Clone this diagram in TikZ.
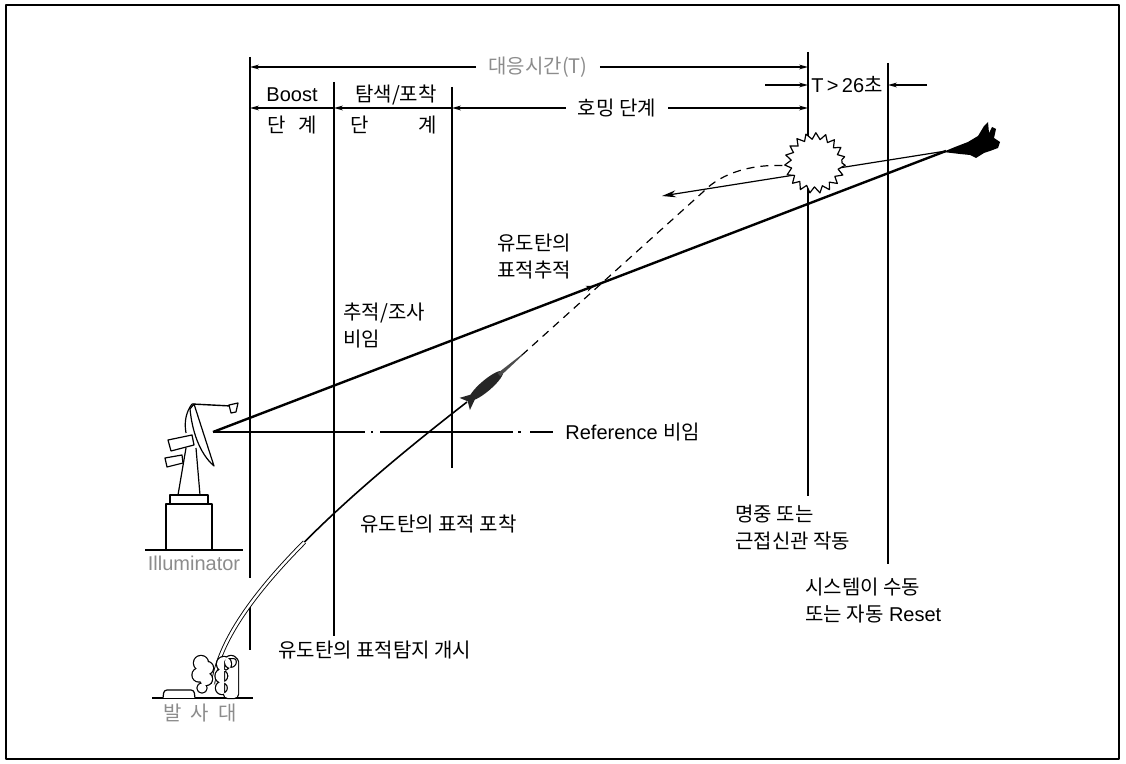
\documentclass[tikz,border=0pt]{standalone}
\usepackage{fontspec}
\setmainfont{Liberation Sans}
\newfontfamily\krfont{Noto Sans CJK KR}
\usetikzlibrary{arrows.meta,decorations.pathmorphing,decorations.markings}
\newcommand{\hg}[1]{{\krfont #1}}
\definecolor{labelgray}{gray}{0.55}

\tikzset{
  txt/.style={font=\fontsize{10}{13.5}\selectfont, inner sep=0pt, align=left},
  dimlbl/.style={txt, inner xsep=6pt},
  dimarrow/.style={line width=0.6pt, -{Stealth[length=4.5pt,width=2.4pt]}},
  phase/.style={line width=0.6pt},
  beam/.style={line width=1.2pt},
  part/.style={line width=0.6pt, fill=white},
}
% puffs of smoke: a thick outline first, then white fill on top
\newcommand{\puffs}[1]{%
  \draw[line width=1.2pt] #1;
  \fill[white] #1;}

\begin{document}
\begin{tikzpicture}[x=0.5pt,y=-0.5pt,line join=round]
\useasboundingbox (0,0) rectangle (1126,764);
\draw[line width=0.8pt] (6,5) rectangle (1119,759);

% phase boundaries
\coordinate (v1) at (250,57);
\coordinate (v2) at (334,82);
\coordinate (v3) at (452,87);
\coordinate (v4) at (808,52);
\coordinate (v5) at (888,63);
\draw[phase] (v1) -- (250,578);
\draw[phase] (250,606) -- (250,650);
\draw[phase] (v2) -- (334,636);
\draw[phase] (v3) -- (452,468);
\draw[phase] (v4) -- (808,496);
\draw[phase] (v5) -- (888,564);

% time scale on top
\node[dimlbl, text=labelgray] (resp) at (538,67) {\hg{대응시간(T)}};
\draw[dimarrow] (resp.west) -- (resp.west -| v1);
\draw[dimarrow] (resp.east) -- (resp.east -| v4);

\node[dimlbl] (homing) at (617,108) {\hg{호밍 단계}};
\draw[dimarrow] (homing.west) -- (homing.west -| v3);
\draw[dimarrow] (homing.east) -- (homing.east -| v4);
\draw[dimarrow] (homing.west -| v3) -- (homing.west -| v2);
\draw[dimarrow] (homing.west -| v2) -- (homing.west -| v1);

\node[txt] (tlim) at (847,85) {T\,>\,26\hg{초}};
\coordinate (tl) at (765,85);
\coordinate (tr) at (927,85);
\draw[dimarrow] (tl) -- (tl -| v4);
\draw[dimarrow] (tr) -- (tr -| v5);

\node[txt] (boost) at (292,95) {Boost};
\node[txt] (boostb) at (292,125) {\hg{단\hspace{0.6em}계}};
\node[txt] (srch) at (396,95) {\hg{탐색/포착}};
\node[txt, anchor=west] (srchb) at (350,125) {\hg{단\hspace{2.5em}계}};

% illuminator
\draw[line width=0.7pt] (145,550) -- (243,550);
\draw[part] (166,504) rectangle (212,550);
\draw[part] (170,495) rectangle (208,504);
\draw[line width=0.6pt] (178,495) -- (186,448) (200,495) -- (196,448);
\draw[part] (168,440) -- (192,435) -- (194,445) -- (171,451) -- cycle;
\draw[part] (165,458) -- (182,455) -- (183,463) -- (167,467) -- cycle;
\draw[part] (194,404) -- (214,466) .. controls (199,453) and (192,430) .. (190,409) -- cycle;
\draw[line width=0.6pt] (192,404) .. controls (186,412) and (184,422) .. (186,433);
\draw[line width=0.7pt] (192,404) -- (231,406);
\draw[part] (229,405) -- (238,403) -- (236,412) -- (231,413) -- cycle;
\coordinate (dish) at (213,432);
\node[txt, text=labelgray] (illum) at (194,563) {Illuminator};

% beams
\coordinate (jet) at (946,151);
\draw[beam, postaction={decorate}, decoration={markings,
  mark=at position 0.52 with {\arrow{Stealth[length=4pt,width=3pt]}}}] (dish) -- (jet);
\node[txt, anchor=west] (ref) at (565,432) {Reference \hg{비임}};
\draw[line width=0.6pt, dash pattern=on 76pt off 3pt on 1pt off 3.5pt on 66.5pt off 2.5pt on 1.5pt off 4.5pt on 11.5pt]
  (dish) -- ([xshift=-6pt]ref.west);

% missile flight
\draw[line width=0.45pt, double, double distance=1.2pt] (213,684) .. controls (219,640) and (255.75,591.25) .. (304.4,542.1);
\draw[line width=0.8pt] (304.4,542.1) .. controls (353,493) and (413.5,443.5) .. (467,402);
\begin{scope}[shift={(467,402)}, rotate=40.5]
  \fill[black!85] (-3,-8) -- (8,-3) -- (8,3) -- (-3,8) -- (1,0) -- cycle;
  \fill[black!85] (25,0) ellipse [x radius=22, y radius=5.5];
  \fill[black!70] (42,-2) -- (72,-0.6) -- (72,0.6) -- (42,2) -- cycle;
  \coordinate (nose) at (72,0);
\end{scope}
\draw[line width=0.6pt, dash pattern=on 4pt off 3pt] (nose) -- (703,192) .. controls (722,172) and (755,163) .. (790,166);

% target path and burst
\coordinate (tgthead) at (662,196);
\draw[line width=0.6pt, -{Stealth[length=7pt,width=3.5pt]}] (jet) -- (tgthead);
\coordinate (burst) at (815,163);
\draw[line width=0.6pt, fill=white, decorate, decoration={zigzag, segment length=4.5pt, amplitude=1.6pt}] (burst) circle (27);

% aircraft
\fill[black] (943,152) -- (955,147) -- (968,142) -- (978,136) -- (984,126) -- (988,122) -- (989,133)
  -- (992,127) -- (996,129) -- (994,138) -- (1000,142) -- (998,148) -- (990,151) -- (984,153)
  -- (976,158) -- (970,155) -- (960,154) -- cycle;

% launcher
\draw[line width=0.7pt] (152,698) -- (253,698);
\draw[part, rounded corners=1.5pt] (163,698) -- (164,690) -- (194,690) -- (195,698);
\puffs{(201,663) circle (7) (207,668) circle (6) (199,675) circle (6.5) (206,679) circle (6)
  (202,688) circle (4.5)}
\puffs{(224,664) circle (7) (231,662) circle (6) (222,676) circle (6.5) (222,688) circle (6)
  [rounded corners=2pt] (224,658) rectangle (238,698)}
\node[txt, text=labelgray] (pad) at (200,713) {\hg{발\hspace{0.45em}사\hspace{0.45em}대}};

% event labels
\node[txt, anchor=west] (beamlbl) at (343,326) {\hg{추적/조사}\\\hg{비임}};
\node[txt, anchor=west] (tracklbl) at (497,257) {\hg{유도탄의}\\\hg{표적추적}};
\node[txt, anchor=west] (acq) at (360,524) {\hg{유도탄의 표적 포착}};
\node[txt, anchor=west] (detect) at (278,650) {\hg{유도탄의 표적탐지 개시}};
\node[txt, anchor=west] (hit) at (735,528) {\hg{명중 또는}\\\hg{근접신관 작동}};
\node[txt, anchor=west] (reset) at (805,601) {\hg{시스템이 수동}\\\hg{또는 자동} Reset};
\end{tikzpicture}
\end{document}
